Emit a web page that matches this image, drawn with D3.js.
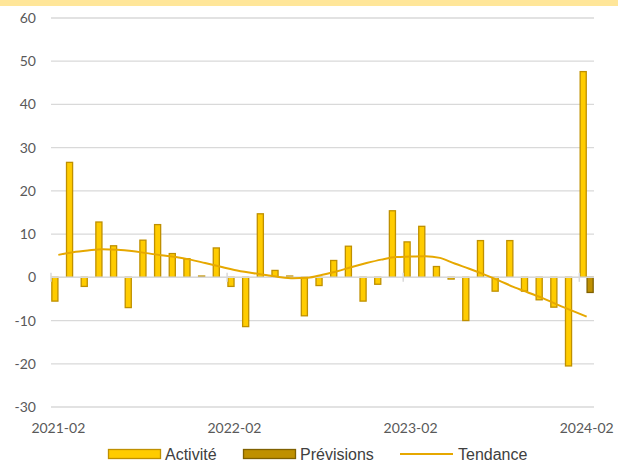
<!DOCTYPE html>
<meta charset="utf-8">
<style>
body { margin: 0; background: #fff; }
text { font-family: Lato, sans-serif; }
.axis text { fill: #595959; font-size: 14px; font-family: Lato, sans-serif; }
.legend text { fill: #404040; font-size: 16px; font-family: "Liberation Sans", Arial, sans-serif; }
</style>
<body>
<script src="https://cdn.jsdelivr.net/npm/d3@7"></script>
<script>
// months shown on the category axis
var months = ["2021-02","2021-03","2021-04","2021-05","2021-06","2021-07","2021-08","2021-09","2021-10","2021-11","2021-12","2022-01",
              "2022-02","2022-03","2022-04","2022-05","2022-06","2022-07","2022-08","2022-09","2022-10","2022-11","2022-12","2023-01",
              "2023-02","2023-03","2023-04","2023-05","2023-06","2023-07","2023-08","2023-09","2023-10","2023-11","2023-12","2024-01",
              "2024-02"];
var activite = [-5.5, 26.6, -2.1, 12.8, 7.3, -7.0, 8.6, 12.2, 5.5, 4.3, 0.3, 6.8,
                -2.1, -11.4, 14.7, 1.6, 0.3, -8.9, -1.9, 3.9, 7.2, -5.5, -1.6, 15.4,
                8.2, 11.8, 2.5, -0.4, -10.0, 8.5, -3.2, 8.5, -3.2, -5.2, -6.9, -20.5,
                47.6];
var previsions = {"2024-02": -3.5};
var tendance = [5.2, 5.8, 6.2, 6.5, 6.4, 6.1, 5.6, 5.1, 4.7, 4.1, 3.3, 2.5,
                1.7, 1.1, 0.6, 0.1, -0.2, -0.1, 0.6, 1.4, 2.4, 3.3, 4.1, 4.7,
                4.8, 4.9, 4.5, 3.2, 2.0, 0.7, -0.7, -2.2, -3.5, -4.8, -6.3, -7.7, -9.1];
var yTicks = [-30, -20, -10, 0, 10, 20, 30, 40, 50, 60];
var xLabels = ["2021-02", "2022-02", "2023-02", "2024-02"];
var seriesNames = ["Activité", "Prévisions"];

var W = 618, H = 470;
var mLeft = 51, mRight = 594, mTop = 18, mBottom = 407;

var svg = d3.select("body").append("svg").attr("width", W).attr("height", H);

// pale yellow band at the top
svg.append("rect").attr("x", 0).attr("y", 0).attr("width", W).attr("height", 6).attr("fill", "#FFE699");

var x = d3.scaleBand().domain(months).range([mLeft, mRight]).padding(0);
var xs = d3.scaleBand().domain(seriesNames).range([0, x.bandwidth()]).paddingInner(0.12).paddingOuter(0.12);
var y = d3.scaleLinear().domain([-30, 60]).range([mBottom, mTop]);

// gridlines
svg.append("g").selectAll("line").data(yTicks).enter().append("line")
    .attr("x1", mLeft).attr("x2", mRight)
    .attr("y1", function(d){ return y(d); }).attr("y2", function(d){ return y(d); })
    .attr("stroke", "#D9D9D9").attr("stroke-width", 1.3);

// y labels (plain hyphen for negatives, like the original)
var yAxis = svg.append("g").attr("class", "axis")
    .attr("transform", "translate(" + (mLeft - 15) + ",0)")
    .call(d3.axisLeft(y).tickValues(yTicks).tickSize(0).tickPadding(0).tickFormat(function(d){ return String(d); }));
yAxis.select(".domain").remove();

// activité bars
svg.append("g").selectAll("rect").data(activite).enter().append("rect")
    .attr("x", function(d, i){ return x(months[i]) + xs("Activité"); })
    .attr("y", function(d){ return y(Math.max(0, d)); })
    .attr("width", xs.bandwidth())
    .attr("height", function(d){ return Math.abs(y(d) - y(0)); })
    .attr("fill", "#FFCC00").attr("stroke", "#BF9000").attr("stroke-width", 1.3);

// prévisions bars
var prev = Object.keys(previsions);
svg.append("g").selectAll("rect").data(prev).enter().append("rect")
    .attr("x", function(k){ return x(k) + xs("Prévisions"); })
    .attr("y", function(k){ return y(Math.max(0, previsions[k])); })
    .attr("width", xs.bandwidth())
    .attr("height", function(k){ return Math.abs(y(previsions[k]) - y(0)); })
    .attr("fill", "#BF9000").attr("stroke", "#7F6000").attr("stroke-width", 1.3);

// zero axis with cross ticks at the start of each year
svg.append("line").attr("x1", mLeft).attr("x2", mRight).attr("y1", y(0)).attr("y2", y(0))
    .attr("stroke", "#D9D9D9").attr("stroke-width", 1.5);
svg.append("g").selectAll("line").data(xLabels).enter().append("line")
    .attr("x1", function(d){ return x(d); }).attr("x2", function(d){ return x(d); })
    .attr("y1", y(0) - 4.5).attr("y2", y(0) + 4.5)
    .attr("stroke", "#D9D9D9").attr("stroke-width", 1.5);

// trend line
var line = d3.line()
    .x(function(d, i){ return x(months[i]) + x.bandwidth() / 2; })
    .y(function(d){ return y(d); })
    .curve(d3.curveMonotoneX);
svg.append("path").datum(tendance).attr("d", line)
    .attr("fill", "none").attr("stroke", "#E6A800").attr("stroke-width", 2);

// x labels
var xAxis = svg.append("g").attr("class", "axis")
    .attr("transform", "translate(0," + (mBottom + 16) + ")")
    .call(d3.axisBottom(x).tickValues(xLabels).tickSize(0).tickPadding(0));
xAxis.select(".domain").remove();

// legend
var lg = svg.append("g").attr("class", "legend");
var ly = 454;
lg.append("rect").attr("x", 108.5).attr("y", ly - 4.5).attr("width", 52).attr("height", 9)
    .attr("fill", "#FFCC00").attr("stroke", "#BF9000").attr("stroke-width", 1.3);
lg.append("text").attr("x", 165).attr("y", ly).attr("dy", "0.35em").text("Activité");
lg.append("rect").attr("x", 243.5).attr("y", ly - 4.5).attr("width", 52).attr("height", 9)
    .attr("fill", "#BF9000").attr("stroke", "#7F6000").attr("stroke-width", 1.3);
lg.append("text").attr("x", 300).attr("y", ly).attr("dy", "0.35em").text("Prévisions");
lg.append("line").attr("x1", 400).attr("x2", 453).attr("y1", ly).attr("y2", ly)
    .attr("stroke", "#E6A800").attr("stroke-width", 2);
lg.append("text").attr("x", 458).attr("y", ly).attr("dy", "0.35em").text("Tendance");
</script>
</body>
